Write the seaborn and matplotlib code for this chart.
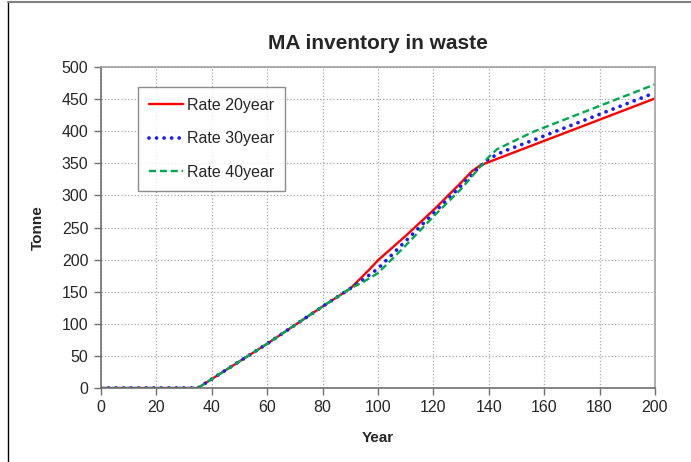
import numpy as np
import pandas as pd
import seaborn as sns
import matplotlib.pyplot as plt
from matplotlib.lines import Line2D

# values
year_20 = [0, 35, 40, 60, 80, 90, 97, 100, 110, 120, 130, 134, 137, 200]
rate_20 = [0, 0, 14, 69, 127, 155, 185, 199, 237, 277, 320, 338, 347, 451]

year_30 = [0, 35, 40, 60, 80, 90, 95, 100, 110, 120, 130, 137, 140, 145, 156, 200]
rate_30 = [0, 0, 14, 69, 127, 155, 170, 186, 229, 272, 315, 346, 357, 368, 386, 460]

year_40 = [0, 35, 40, 60, 80, 90, 95, 100, 110, 120, 130, 137, 140, 143, 156, 200]
rate_40 = [0, 0, 14, 69, 127, 155, 166, 179, 222, 267, 310, 345, 360, 372, 399, 473]

labels = ['Rate 20year', 'Rate 30year', 'Rate 40year']
colors = ['#ff0000', '#1a1aff', '#00a84f']

sns.set_style('white')
plt.rcParams['font.family'] = ['Liberation Sans', 'DejaVu Sans']

fig = plt.figure(figsize=(6.91, 4.62), dpi=100)
ax = fig.add_axes([101 / 691, 1 - 388 / 462, 554 / 691, 321 / 462])

series = [(year_20, rate_20), (year_30, rate_30), (year_40, rate_40)]
for (xs, ys), lab, col in zip(series, labels, colors):
    sns.lineplot(x=xs, y=ys, color=col, label=lab, ax=ax, linewidth=1.7)

lines = ax.get_lines()
lines[1].set_linewidth(2.7)
lines[1].set_dashes((0.01, 2.0))
lines[1].set_dash_capstyle('round')
lines[2].set_dashes((3.0, 1.6))

ax.set_xlim(0, 200)
ax.set_ylim(0, 500)
ax.set_xticks(np.arange(0, 201, 20))
ax.set_yticks(np.arange(0, 501, 50))
ax.grid(True, color='#a8a8a8', linestyle=':', linewidth=0.9)
ax.set_axisbelow(True)

for side in ['top', 'right']:
    ax.spines[side].set_color('#a0a0a0')
    ax.spines[side].set_linewidth(1.2)
for side in ['left', 'bottom']:
    ax.spines[side].set_color('#707070')
    ax.spines[side].set_linewidth(1.2)

ax.tick_params(axis='both', direction='out', length=5, width=1,
               color='#707070', labelsize=11.5, pad=4, left=True, bottom=True)
ax.set_xlabel('Year', fontsize=11, fontweight='bold', labelpad=11)
ax.set_ylabel('Tonne', fontsize=11, fontweight='bold', labelpad=12)
ax.set_title('MA inventory in waste', fontsize=15, fontweight='bold', pad=13)

leg = ax.legend(loc='upper left', bbox_to_anchor=(0.067, 0.938), borderaxespad=0,
                fontsize=11.5, frameon=True, fancybox=False, handlelength=2.1,
                handletextpad=0.25, labelspacing=1.15, borderpad=0.7)
leg.get_frame().set_edgecolor('#707070')
leg.get_frame().set_linewidth(1.0)

# outer border of the picture (left and top edges)
fig.add_artist(Line2D([8 / 691, 8 / 691], [0, 1 - 2 / 462], color='black', linewidth=1.0))
fig.add_artist(Line2D([8 / 691, 1], [1 - 2 / 462, 1 - 2 / 462], color='#808080', linewidth=1.5))

fig.savefig('out.png', dpi=100)
